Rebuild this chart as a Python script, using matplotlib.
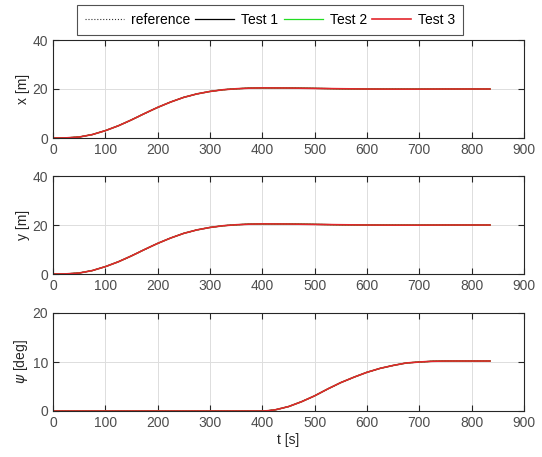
import matplotlib.pyplot as plt

plt.rcParams['font.family'] = ['Liberation Sans', 'DejaVu Sans']

# time samples [s]
t = [0, 25, 50, 75, 100, 125, 150, 175, 200, 225, 250, 275, 300, 325, 350, 375, 400,
     450, 500, 550, 600, 650, 700, 750, 800, 835]

x_pos = [0.0, 0.05, 0.4, 1.4, 3.0, 5.0, 7.4, 10.0, 12.5, 14.7, 16.6, 18.0, 19.0, 19.7,
         20.1, 20.35, 20.45, 20.4, 20.25, 20.1, 20.0, 19.95, 19.95, 20.0, 20.0, 20.0]
y_pos = [0.0, 0.05, 0.4, 1.4, 3.0, 5.0, 7.4, 10.0, 12.5, 14.7, 16.6, 18.0, 19.0, 19.7,
         20.1, 20.35, 20.45, 20.4, 20.25, 20.1, 20.0, 19.95, 19.95, 20.0, 20.0, 20.0]

t_psi = [0, 100, 200, 300, 400, 410, 425, 450, 475, 500, 525, 550, 575, 600, 625, 650,
         675, 700, 725, 750, 800, 835]
psi = [0.0, 0.0, 0.0, 0.0, 0.0, 0.05, 0.25, 0.9, 1.9, 3.1, 4.5, 5.8, 6.9, 7.9, 8.7, 9.3,
       9.8, 10.0, 10.15, 10.2, 10.2, 10.2]

series = ['reference', 'Test 1', 'Test 2', 'Test 3']
colors = ['#333333', 'black', '#22dd22', '#e3262c']
styles = [':', '-', '-', '-']
widths = [0.8, 0.9, 0.9, 1.2]

panels = [(t, x_pos, 'x [m]', 40), (t, y_pos, 'y [m]', 40), (t_psi, psi, r'$\psi$ [deg]', 20)]

fig = plt.figure(figsize=(5.42, 4.57), dpi=100)
W, H = 542, 457
boxes = [(40, 138), (176, 274), (313, 411)]
axes = []
for (top, bot), (tt, vals, lab, ymax) in zip(boxes, panels):
    ax = fig.add_axes([53 / W, 1 - bot / H, (524 - 53) / W, (bot - top) / H])
    for name, c, ls, lw in zip(series, colors, styles, widths):
        ax.plot(tt, vals, color=c, linestyle=ls, linewidth=lw, label=name)
    ax.set_xlim(0, 900)
    ax.set_ylim(0, ymax)
    ax.set_xticks(range(0, 901, 100))
    ax.set_yticks([0, ymax / 2, ymax])
    ax.set_yticklabels([str(int(v)) for v in [0, ymax / 2, ymax]])
    ax.grid(True, color='#dddddd', linewidth=0.7)
    ax.tick_params(direction='in', top=True, right=True, labelsize=10,
                   colors='#262626', labelcolor='#4d4d4d', length=4)
    for sp in ax.spines.values():
        sp.set_color('#262626')
        sp.set_linewidth(0.8)
    ax.set_ylabel(lab, fontsize=10, color='#262626', labelpad=2)
    axes.append(ax)

axes[-1].set_xlabel('t [s]', fontsize=10, color='#262626', labelpad=2)

handles, labels = axes[0].get_legend_handles_labels()
leg = fig.legend(handles, labels, loc='center', ncol=4, bbox_to_anchor=(270 / W, 1 - 20 / H),
                 fontsize=10, frameon=True, fancybox=False, edgecolor='#262626',
                 handlelength=2.8, columnspacing=0.4, handletextpad=0.5, borderpad=0.55)
leg.get_frame().set_linewidth(0.8)

fig.savefig('out.png', dpi=100)
